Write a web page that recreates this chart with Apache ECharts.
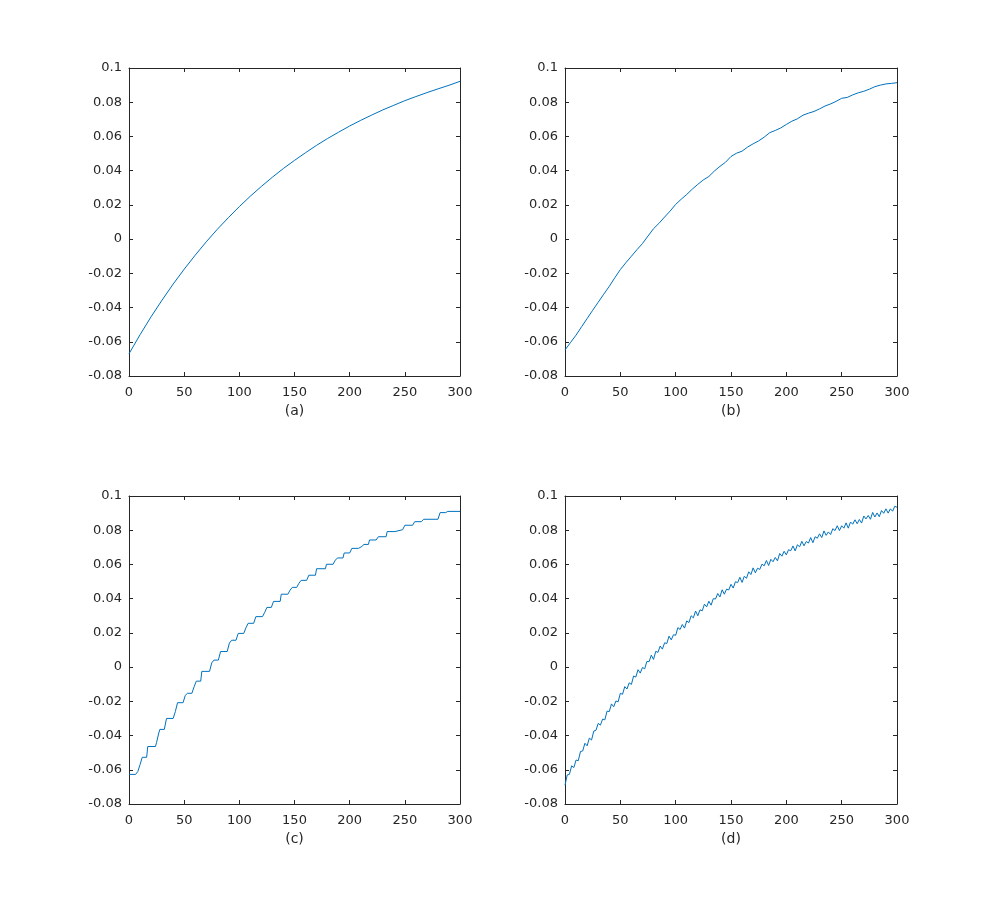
<!DOCTYPE html>
<html>
<head>
<meta charset="utf-8">
<title>Four subplots</title>
<script src="https://cdn.jsdelivr.net/npm/echarts@6/dist/echarts.min.js"></script>
<style>
  html, body { margin: 0; padding: 0; background: #fff; }
  #chart { width: 991px; height: 903px; }
</style>
</head>
<body>
<div id="chart"></div>
<script>
// shared ticks
const xTicks = { min: 0, max: 300, interval: 50 };
const yTicks = { min: -0.08, max: 0.1, interval: 0.02 };
const panelNames = ['(a)', '(b)', '(c)', '(d)'];

// (a) smooth curve
const aX = [0, 10, 20, 30, 40, 50, 60, 70, 80, 90, 100, 110, 120, 130, 140, 150,
  160, 170, 180, 190, 200, 210, 220, 230, 240, 250, 260, 270, 280, 290, 300];
const aY = [-0.0670, -0.0559, -0.0454, -0.0356, -0.0263, -0.0176, -0.0094, -0.0016,
  0.0057, 0.0125, 0.0190, 0.0251, 0.0308, 0.0362, 0.0413, 0.0460, 0.0505, 0.0548,
  0.0588, 0.0625, 0.0661, 0.0694, 0.0725, 0.0755, 0.0782, 0.0809, 0.0833, 0.0856,
  0.0878, 0.0899, 0.0922];

// (b) slightly uneven curve
const bX = [0, 5, 10, 15, 20, 25, 30, 35, 40, 45, 50, 55, 60, 65, 70, 75, 80, 85, 90, 95,
  100, 105, 110, 115, 120, 125, 130, 135, 140, 145, 150, 155, 160, 165, 170, 175, 180,
  185, 190, 195, 200, 205, 210, 215, 220, 225, 230, 235, 240, 245, 250, 255, 260, 265,
  270, 275, 280, 285, 290, 295, 300];
const bY = [-0.0648, -0.0604, -0.0561, -0.0512, -0.0464, -0.0416, -0.0369, -0.0322,
  -0.0276, -0.0226, -0.0178, -0.0138, -0.0100, -0.0062, -0.0026, 0.0018, 0.0061, 0.0093,
  0.0129, 0.0164, 0.0203, 0.0233, 0.0261, 0.0292, 0.0320, 0.0346, 0.0366, 0.0398, 0.0425,
  0.0449, 0.0483, 0.0502, 0.0514, 0.0538, 0.0557, 0.0574, 0.0596, 0.0622, 0.0635, 0.0650,
  0.0670, 0.0689, 0.0703, 0.0724, 0.0736, 0.0746, 0.0761, 0.0778, 0.0790, 0.0805, 0.0823,
  0.0828, 0.0843, 0.0855, 0.0864, 0.0876, 0.0891, 0.0900, 0.0907, 0.0910, 0.0914];

// (c) staircase: corners of each level
const cX = [0, 6, 8, 10, 12, 16, 17, 24, 25, 27, 28, 32, 34, 40, 42, 44, 49, 51, 53, 57,
  59, 61, 65, 66, 73, 75, 77, 81, 83, 89, 91, 93, 97, 99, 104, 106, 108, 113, 115, 121,
  123, 125, 129, 131, 137, 138, 144, 146, 148, 152, 154, 156, 161, 163, 169, 170, 178,
  179, 185, 187, 189, 194, 195, 200, 202, 208, 211, 213, 217, 218, 224, 226, 233, 234,
  241, 242, 248, 250, 257, 259, 265, 267, 280, 282, 287, 289, 300];
const cY = [-0.0627, -0.0627, -0.0610, -0.0570, -0.0527, -0.0527, -0.0464, -0.0464,
  -0.0440, -0.0385, -0.0364, -0.0364, -0.0300, -0.0300, -0.0260, -0.0208, -0.0208,
  -0.0165, -0.0153, -0.0153, -0.0115, -0.0082, -0.0082, -0.0025, -0.0025, 0.0025, 0.0041,
  0.0041, 0.0091, 0.0091, 0.0140, 0.0157, 0.0157, 0.0197, 0.0197, 0.0230, 0.0256, 0.0256,
  0.0295, 0.0295, 0.0320, 0.0349, 0.0349, 0.0384, 0.0384, 0.0426, 0.0426, 0.0450, 0.0466,
  0.0466, 0.0490, 0.0507, 0.0507, 0.0537, 0.0537, 0.0575, 0.0575, 0.0601, 0.0601, 0.0625,
  0.0638, 0.0638, 0.0667, 0.0667, 0.0694, 0.0694, 0.0705, 0.0717, 0.0717, 0.0743, 0.0743,
  0.0762, 0.0762, 0.0792, 0.0792, 0.0803, 0.0803, 0.0829, 0.0829, 0.0850, 0.0850, 0.0864,
  0.0864, 0.0903, 0.0903, 0.0910, 0.0910];

// (d) noisy curve, sampled every 2
const dStep = 2;
const dY = [
  -0.0690, -0.0630, -0.0627, -0.0577, -0.0587, -0.0543, -0.0547, -0.0493, -0.0490, -0.0445,
  -0.0460, -0.0415, -0.0426, -0.0374, -0.0369, -0.0329, -0.0339, -0.0304, -0.0308, -0.0257,
  -0.0260, -0.0215, -0.0232, -0.0198, -0.0203, -0.0153, -0.0159, -0.0114, -0.0128, -0.0092,
  -0.0101, -0.0052, -0.0058, -0.0015, -0.0035, -0.0002, -0.0010, 0.0033, 0.0032, 0.0070,
  0.0045, 0.0092, 0.0086, 0.0123, 0.0105, 0.0142, 0.0138, 0.0181, 0.0159, 0.0189,
  0.0186, 0.0231, 0.0220, 0.0249, 0.0228, 0.0270, 0.0260, 0.0300, 0.0288, 0.0328,
  0.0300, 0.0335, 0.0329, 0.0368, 0.0352, 0.0385, 0.0362, 0.0400, 0.0398, 0.0430,
  0.0410, 0.0452, 0.0426, 0.0456, 0.0451, 0.0484, 0.0462, 0.0499, 0.0494, 0.0525,
  0.0495, 0.0531, 0.0519, 0.0557, 0.0541, 0.0580, 0.0551, 0.0578, 0.0571, 0.0602,
  0.0592, 0.0623, 0.0594, 0.0630, 0.0616, 0.0641, 0.0621, 0.0664, 0.0648, 0.0677,
  0.0656, 0.0686, 0.0680, 0.0708, 0.0679, 0.0715, 0.0703, 0.0735, 0.0709, 0.0734,
  0.0725, 0.0757, 0.0727, 0.0762, 0.0753, 0.0779, 0.0757, 0.0796, 0.0770, 0.0790,
  0.0775, 0.0809, 0.0798, 0.0826, 0.0798, 0.0826, 0.0812, 0.0843, 0.0812, 0.0848,
  0.0835, 0.0861, 0.0838, 0.0863, 0.0842, 0.0883, 0.0866, 0.0886, 0.0864, 0.0904,
  0.0877, 0.0901, 0.0879, 0.0915, 0.0899, 0.0925, 0.0900, 0.0925, 0.0911, 0.0940, 0.0934
];

const panels = [
  { x: aX, y: aY },
  { x: bX, y: bY },
  { x: cX, y: cY },
  { x: dY.map((v, i) => i * dStep), y: dY }
];

const grids = [
  { left: 129, top: 68, width: 331, height: 308 },
  { left: 565, top: 68, width: 332, height: 308 },
  { left: 129, top: 496, width: 331, height: 308 },
  { left: 565, top: 496, width: 332, height: 308 }
];

const ink = '#262626';
const font = 'DejaVu Sans';
const boxLine = { onZero: false, lineStyle: { color: ink, width: 1 } };
const inTick = { show: true, inside: true, length: 4, lineStyle: { color: ink } };

const xAxes = [];
const yAxes = [];
const series = [];
grids.forEach((g, i) => {
  // bottom + top x axes, left + right y axes (boxed, inward ticks)
  xAxes.push({
    type: 'value', gridIndex: i, position: 'bottom', ...xTicks,
    name: panelNames[i], nameLocation: 'middle', nameGap: 28,
    nameTextStyle: { color: ink, fontFamily: font, fontSize: 14 },
    axisLine: boxLine,
    axisTick: inTick,
    axisLabel: { color: ink, fontFamily: font, fontSize: 13, margin: 10 },
    splitLine: { show: false }
  });
  xAxes.push({
    type: 'value', gridIndex: i, position: 'top', ...xTicks,
    axisLine: boxLine,
    axisTick: inTick,
    axisLabel: { show: false },
    splitLine: { show: false }
  });
  yAxes.push({
    type: 'value', gridIndex: i, position: 'left', ...yTicks,
    axisLine: { show: true, ...boxLine },
    axisTick: inTick,
    axisLabel: {
      color: ink, fontFamily: font, fontSize: 13, margin: 7,
      formatter: v => String(parseFloat(v.toFixed(2)))
    },
    splitLine: { show: false }
  });
  yAxes.push({
    type: 'value', gridIndex: i, position: 'right', ...yTicks,
    axisLine: { show: true, ...boxLine },
    axisTick: inTick,
    axisLabel: { show: false },
    splitLine: { show: false }
  });
  series.push({
    type: 'line',
    xAxisIndex: i * 2,
    yAxisIndex: i * 2,
    data: panels[i].x.map((x, k) => [x, panels[i].y[k]]),
    showSymbol: false,
    symbol: 'none',
    lineStyle: { color: '#0072BD', width: 1 },
    animation: false
  });
});

const chart = echarts.init(document.getElementById('chart'));
chart.setOption({
  backgroundColor: '#ffffff',
  animation: false,
  grid: grids,
  xAxis: xAxes,
  yAxis: yAxes,
  series: series
});
</script>
</body>
</html>
